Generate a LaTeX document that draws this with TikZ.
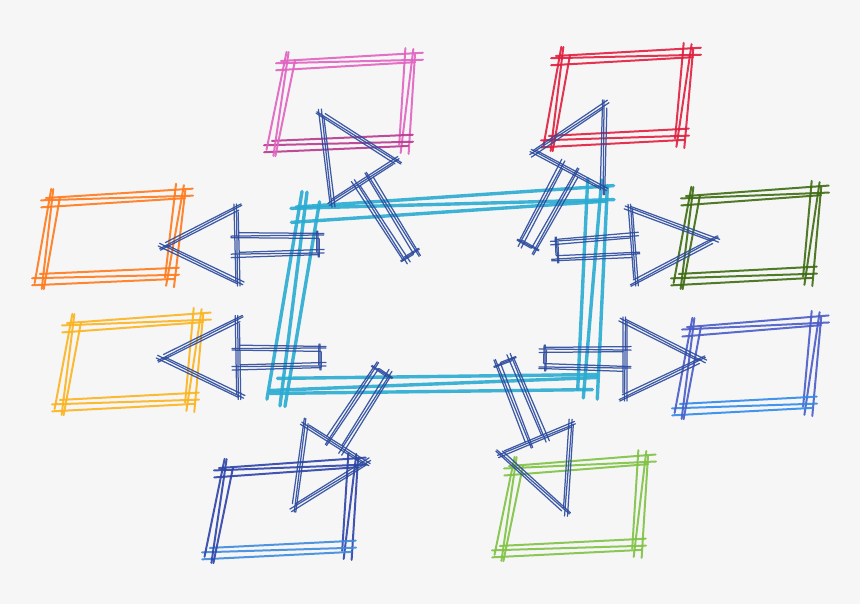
\documentclass[tikz,border=0pt]{standalone}
\usetikzlibrary{calc}
\definecolor{bg}{HTML}{F6F6F6}
\definecolor{cpink}{HTML}{E063C0}
\definecolor{cmag}{HTML}{B8388E}
\definecolor{cred}{HTML}{E01E3E}
\definecolor{corange}{HTML}{FF7A1C}
\definecolor{cdgreen}{HTML}{3F6C12}
\definecolor{cyellow}{HTML}{FBB420}
\definecolor{cindigo}{HTML}{4A5CC8}
\definecolor{cazure}{HTML}{2F8BEA}
\definecolor{cnavy}{HTML}{2E43A8}
\definecolor{csky}{HTML}{3C8ADC}
\definecolor{cgreen}{HTML}{80C244}
\definecolor{ccyan}{HTML}{29ABD2}
\definecolor{carrow}{HTML}{2B4A9C}
% sketchy line: style, P, Q, overshoot, offset A, offset B
\newcommand\skl[6]{%
  \coordinate (skA) at ($(#2)!-#4!(#3)$);
  \coordinate (skB) at ($(#3)!-#4!(#2)$);
  \draw[#1] (skA) -- (skB);
  \draw[#1, shorten <=5pt] ($(skA)!#5!90:(skB)$) -- ($(skB)!#6!-90:(skA)$);
  \draw[#1, shorten >=8pt] ($(skA)!#6!-90:(skB)$) -- ($(skB)!#5!90:(skA)$);
}
% sketchy box: top style, bottom style, TL, TR, BR, BL
\newcommand\skbox[6]{%
  \skl{#1}{#3}{#4}{11pt}{2pt}{7pt}
  \skl{#1}{#4}{#5}{11pt}{2pt}{8pt}
  \skl{#2}{#5}{#6}{11pt}{4pt}{7pt}
  \skl{#1}{#6}{#3}{11pt}{8pt}{2pt}
}
% sketchy block arrow: tail, tip, head length, head half width, shaft half width
\newcommand\skarrow[5]{%
  \coordinate (aH) at ($(#2)!#3!(#1)$);
  \coordinate (ah1) at ($(aH)!#4!90:(#2)$);
  \coordinate (ah2) at ($(aH)!#4!-90:(#2)$);
  \coordinate (as1) at ($(aH)!#5!90:(#2)$);
  \coordinate (as2) at ($(aH)!#5!-90:(#2)$);
  \coordinate (at1) at ($(#1)!#5!90:(#2)$);
  \coordinate (at2) at ($(#1)!#5!-90:(#2)$);
  \coordinate (aT) at (#2);
  \skl{arrowline}{at1}{as1}{6pt}{1.5pt}{3.5pt}
  \skl{arrowline}{at2}{as2}{6pt}{3.5pt}{1.5pt}
  \skl{arrowline}{at1}{at2}{4pt}{1.5pt}{1pt}
  \skl{arrowline}{ah1}{ah2}{4pt}{1.5pt}{2.5pt}
  \skl{arrowline}{ah1}{aT}{6pt}{1.5pt}{3pt}
  \skl{arrowline}{ah2}{aT}{6pt}{3pt}{1.5pt}
}
\tikzset{
  crayon/.style={line width=2pt, opacity=0.9, draw=#1},
  cyanline/.style={line width=3.4pt, opacity=0.9, draw=ccyan},
  arrowline/.style={line width=1.25pt, opacity=0.9, draw=carrow},
}
\begin{document}
\begin{tikzpicture}[x=1pt,y=-1pt,line cap=round,line join=round]
\fill[bg] (0,0) rectangle (860,604);
\useasboundingbox (0,0) rectangle (860,604);

% outer boxes
\coordinate (pk1) at (287,63);  \coordinate (pk2) at (412,60);  \coordinate (pk3) at (402,142); \coordinate (pk4) at (275,145);
\coordinate (rd1) at (562,58);  \coordinate (rd2) at (690,55);  \coordinate (rd3) at (678,136); \coordinate (rd4) at (552,140);
\coordinate (or1) at (52,200);  \coordinate (or2) at (182,196); \coordinate (or3) at (168,275); \coordinate (or4) at (43,278);
\coordinate (dg1) at (692,198); \coordinate (dg2) at (818,193); \coordinate (dg3) at (806,274); \coordinate (dg4) at (682,278);
\coordinate (ye1) at (73,325);  \coordinate (ye2) at (200,320); \coordinate (ye3) at (188,400); \coordinate (ye4) at (63,404);
\coordinate (bl1) at (693,329); \coordinate (bl2) at (818,323); \coordinate (bl3) at (806,404); \coordinate (bl4) at (683,408);
\coordinate (nv1) at (225,470); \coordinate (nv2) at (355,465); \coordinate (nv3) at (345,548); \coordinate (nv4) at (213,552);
\coordinate (gr1) at (515,468); \coordinate (gr2) at (645,462); \coordinate (gr3) at (635,546); \coordinate (gr4) at (503,550);

\skbox{crayon=cpink}{crayon=cmag}{pk1}{pk2}{pk3}{pk4}
\skbox{crayon=cred}{crayon=cred}{rd1}{rd2}{rd3}{rd4}
\skbox{crayon=corange}{crayon=corange}{or1}{or2}{or3}{or4}
\skbox{crayon=cdgreen}{crayon=cdgreen}{dg1}{dg2}{dg3}{dg4}
\skbox{crayon=cyellow}{crayon=cyellow}{ye1}{ye2}{ye3}{ye4}
\skbox{crayon=cindigo}{crayon=cazure}{bl1}{bl2}{bl3}{bl4}
\skbox{crayon=cnavy}{crayon=csky}{nv1}{nv2}{nv3}{nv4}
\skbox{crayon=cgreen}{crayon=cgreen}{gr1}{gr2}{gr3}{gr4}

% central box
\coordinate (c1) at (305,208); \coordinate (c2) at (600,200); \coordinate (c3) at (585,378); \coordinate (c4) at (282,390);
\skl{cyanline}{c1}{c2}{14pt}{1pt}{14pt}
\skl{cyanline}{c2}{c3}{20pt}{6pt}{14pt}
\skl{cyanline}{c3}{c4}{12pt}{12pt}{3pt}
\skl{cyanline}{c4}{c1}{16pt}{14pt}{5pt}

% arrows
\coordinate (t1) at (410,255); \coordinate (p1) at (322,115);
\coordinate (t2) at (528,245); \coordinate (p2) at (604,106);
\coordinate (t3) at (318,244); \coordinate (p3) at (165,246);
\coordinate (t4) at (557,250); \coordinate (p4) at (713,240);
\coordinate (t5) at (320,357); \coordinate (p5) at (163,358);
\coordinate (t6) at (545,358); \coordinate (p6) at (700,360);
\coordinate (t7) at (382,372); \coordinate (p7) at (295,506);
\coordinate (t8) at (505,362); \coordinate (p8) at (565,510);

\skarrow{t1}{p1}{78pt}{38pt}{7pt}
\skarrow{t2}{p2}{73pt}{39pt}{8pt}
\skarrow{t3}{p3}{72pt}{37pt}{9pt}
\skarrow{t4}{p4}{80pt}{37pt}{9pt}
\skarrow{t5}{p5}{75pt}{38pt}{9pt}
\skarrow{t6}{p6}{75pt}{38pt}{9pt}
\skarrow{t7}{p7}{74pt}{36pt}{8pt}
\skarrow{t8}{p8}{76pt}{38pt}{8pt}
\end{tikzpicture}
\end{document}
